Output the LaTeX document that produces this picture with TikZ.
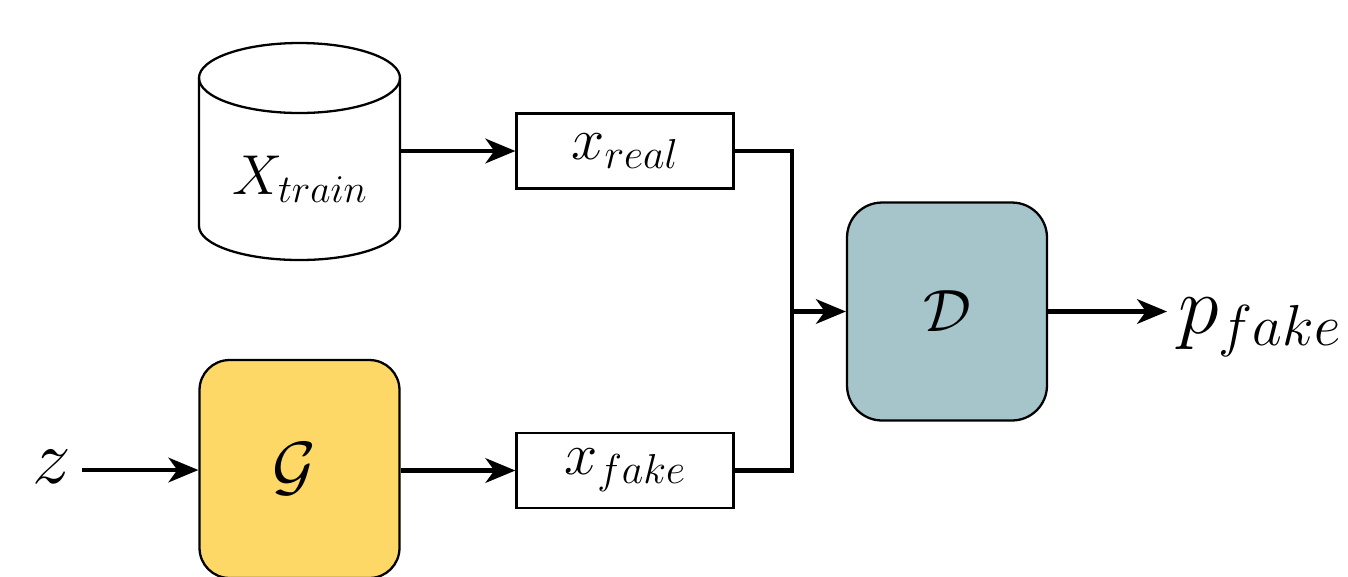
\RequirePackage{fix-cm}
\documentclass[tikz,border=0pt]{standalone}
\usetikzlibrary{arrows.meta,positioning}
\definecolor{genyellow}{HTML}{FDD866}
\definecolor{discblue}{HTML}{A5C5CB}
\begin{document}
\begin{tikzpicture}[x=0.02cm,y=-0.02cm,
  flow/.style={line width=2.4pt,-{Stealth[length=17pt,width=14pt,inset=5pt]}},
  wire/.style={line width=2.4pt},
  netbox/.style={draw,line width=1.3pt,minimum width=4.0cm,minimum height=4.36cm,inner sep=0pt},
  databox/.style={draw,line width=1.3pt,minimum width=4.34cm,minimum height=1.5cm,inner sep=0pt,
    font=\fontsize{34}{40}\selectfont}]
\useasboundingbox (0,0) rectangle (1348,576);

% training data store (cylinder)
\node[minimum width=4.02cm,minimum height=4.36cm,inner sep=0pt] (data) at (299.5,151) {};
\draw[line width=1.3pt,fill=white]
  (199,78) -- (199,226) arc[start angle=180,end angle=0,x radius=100.5,y radius=34]
  -- (400,78) arc[start angle=0,end angle=-180,x radius=100.5,y radius=35] -- cycle;
\draw[line width=1.3pt] (199,78) arc[start angle=180,end angle=0,x radius=100.5,y radius=35];
\node[anchor=base,font=\fontsize{32}{38}\selectfont] (xtrain) at (300,194) {$X_{train}$};

% generator and discriminator
\node[netbox,fill=genyellow,rounded corners=0.6cm,font=\fontsize{38}{44}\selectfont] (G) at (299.5,469) {\hspace*{-6pt}$\mathcal{G}$};
\node[netbox,fill=discblue,rounded corners=0.7cm,font=\fontsize{34}{40}\selectfont] (D) at (947,311.5) {$\mathcal{D}$};

% samples
\node[databox] (xreal) at (625,151) {$x_{real}$};
\node[databox] (xfake) at (625,470.5) {$x_{fake}$};

% input and output
\node[anchor=base west,inner sep=0pt,font=\fontsize{44}{50}\selectfont] (z) at (32,483) {$z$};
\node[anchor=base west,inner sep=0pt,font=\fontsize{47}{53}\selectfont] (p) at (1178,333) {$p_{fake}$};

\coordinate (join) at (792,311.5);
\coordinate (zout) at (82,470);
\coordinate (pin) at (1167,311.5);

\draw[flow] (zout) -- (G.west |- zout);
\draw[flow] (data.east |- xreal.west) -- (xreal.west);
\draw[flow] (G.east |- xfake.west) -- (xfake.west);
\draw[wire] (xreal.east) -| (join);
\draw[wire] (xfake.east) -| (join);
\draw[flow] (join) -- (D.west);
\draw[flow] (D.east) -- (pin);
\end{tikzpicture}
\end{document}
